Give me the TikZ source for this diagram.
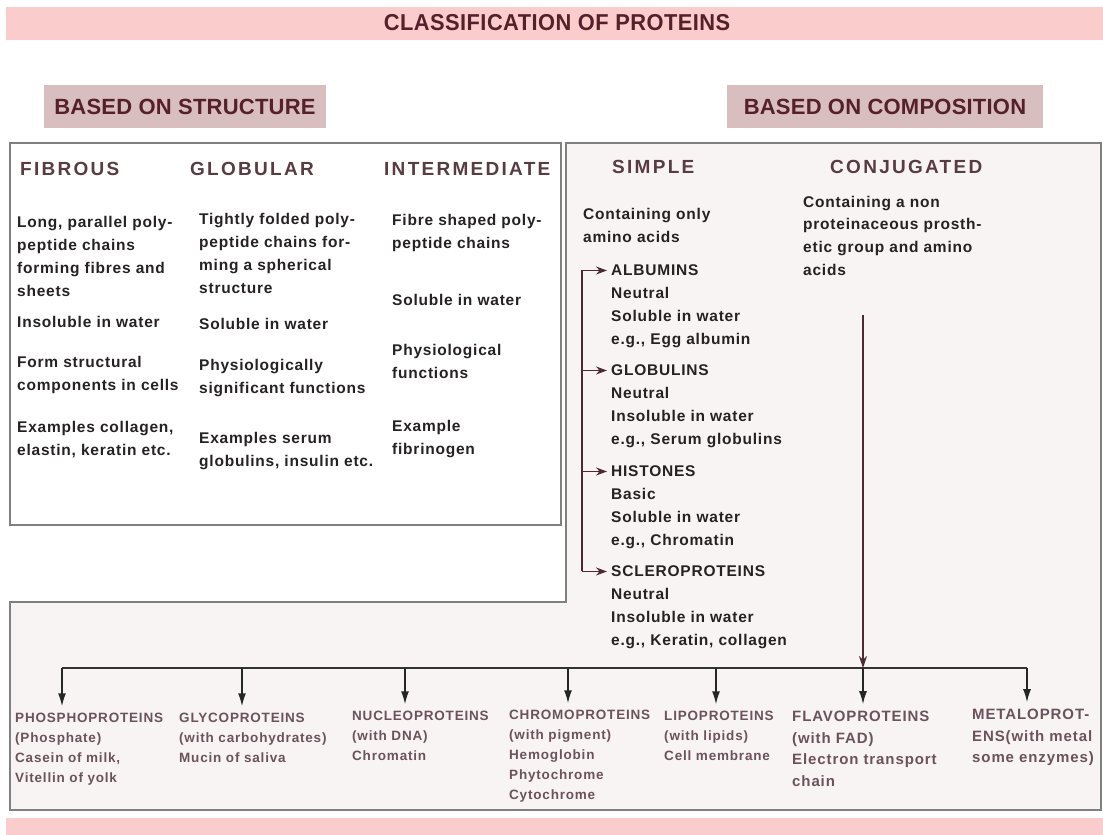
\documentclass[tikz,border=0pt]{standalone}
\usepackage{fontspec}
\setmainfont{Liberation Sans}
\newfontfamily\bannerfont{Liberation Sans}[FakeStretch=0.95,LetterSpace=2]
\newfontfamily\boxfont{Liberation Sans}[LetterSpace=1]
\newfontfamily\headfont{Liberation Sans}[LetterSpace=12]
\newfontfamily\bodyfont{Liberation Sans}[LetterSpace=5]
\newfontfamily\labelfont{Liberation Sans}[LetterSpace=6]
\usetikzlibrary{arrows.meta}
\definecolor{bandpink}{RGB}{250,204,204}
\definecolor{boxmauve}{RGB}{217,190,191}
\definecolor{panel}{RGB}{248,244,244}
\definecolor{framegray}{RGB}{128,128,128}
\definecolor{maroon}{RGB}{85,32,42}
\definecolor{headtext}{RGB}{88,60,66}
\definecolor{bodytext}{RGB}{38,34,35}
\definecolor{labeltext}{RGB}{108,82,92}
\definecolor{tipcol}{RGB}{78,40,50}
\begin{document}
\begin{tikzpicture}[x=1pt, y=-1pt,
    banner/.style={font=\bannerfont\bfseries\fontsize{23}{27}\selectfont, text=maroon, inner sep=0pt},
    basedbox/.style={fill=boxmauve, minimum height=43pt, inner sep=0pt, font=\boxfont\bfseries\fontsize{22}{26}\selectfont, text=maroon},
    colhead/.style={anchor=base west, inner sep=0pt, font=\headfont\bfseries\fontsize{19}{23}\selectfont, text=headtext},
    body/.style={anchor=north west, yshift=11.2pt, align=left, inner sep=0pt, font=\bodyfont\bfseries\fontsize{15.5}{23}\selectfont, text=bodytext},
    item/.style={body, font=\bodyfont\bfseries\fontsize{15.5}{22.7}\selectfont},
    kind/.style={anchor=north west, yshift=9.7pt, align=left, inner sep=0pt, font=\labelfont\bfseries\fontsize{13.5}{19.8}\selectfont, text=labeltext},
    bigkind/.style={kind, yshift=1.1pt, font=\labelfont\bfseries\fontsize{15}{21.5}\selectfont},
    down/.style={-{Latex[length=13pt,width=8pt]}, line width=1.5pt, black!85, shorten >=7pt},
    conj/.style={-{Stealth[length=12pt,width=8pt]}, line width=1.2pt, tipcol},
    brkarrow/.style={-{Stealth[length=11pt,width=8pt]}, line width=1.2pt, tipcol, shorten >=4pt}]
    \useasboundingbox (0, 0) rectangle (1103, 835);

    \fill[bandpink] (6, 7) rectangle (1103, 40);
    \fill[bandpink] (6, 818) rectangle (1103, 835);
    \node[banner] at (557, 23)(title){CLASSIFICATION OF PROTEINS};

    \node[basedbox, minimum width=282pt] at (185, 106.5)(structure){BASED ON STRUCTURE};
    \node[basedbox, minimum width=316pt] at (885, 106.5)(composition){BASED ON COMPOSITION};

    \draw[framegray, line width=1.6pt, fill=white] (10, 143) rectangle (561, 525);
    \draw[framegray, line width=1.6pt, fill=panel] (566, 143) -- (1101, 143) -- (1101, 810)
        -- (10, 810) -- (10, 602) -- (566, 602) -- cycle;

    \node[colhead] at (20, 175)(fibrous){FIBROUS};
    \node[colhead] at (190, 175)(globular){GLOBULAR};
    \node[colhead] at (384, 175)(intermediate){INTERMEDIATE};

    \node[body] at (17, 227)(fibA){Long, parallel poly-\\peptide chains\\forming fibres and\\sheets};
    \node[body] at (17, 327)(fibB){Insoluble in water};
    \node[body] at (17, 367)(fibC){Form structural\\components in cells};
    \node[body] at (17, 432)(fibD){Examples collagen,\\elastin, keratin etc.};

    \node[body] at (199, 224)(gloA){Tightly folded poly-\\peptide chains for-\\ming a spherical\\structure};
    \node[body] at (199, 329)(gloB){Soluble in water};
    \node[body] at (199, 370)(gloC){Physiologically\\significant functions};
    \node[body] at (199, 443)(gloD){Examples serum\\globulins, insulin etc.};

    \node[body] at (392, 225)(intA){Fibre shaped poly-\\peptide chains};
    \node[body] at (392, 305)(intB){Soluble in water};
    \node[body] at (392, 355)(intC){Physiological\\functions};
    \node[body] at (392, 431)(intD){Example\\fibrinogen};

    \node[colhead] at (612, 173)(simple){SIMPLE};
    \node[colhead] at (830, 173)(conjugated){CONJUGATED};
    \node[body] at (583, 219)(simpletext){Containing only\\amino acids};
    \node[item] at (803, 207)(conjtext){Containing a non\\proteinaceous prosth-\\etic group and amino\\acids};

    \node[item] at (611, 276)(albumins){ALBUMINS};
    \node[item] at ([yshift=-22.7pt]albumins.base west)(albuminsinfo){Neutral\\Soluble in water\\e.g., Egg albumin};
    \node[item] at (611, 376)(globulins){GLOBULINS};
    \node[item] at ([yshift=-22.7pt]globulins.base west)(globulinsinfo){Neutral\\Insoluble in water\\e.g., Serum globulins};
    \node[item] at (611, 477)(histones){HISTONES};
    \node[item] at ([yshift=-22.7pt]histones.base west)(histonesinfo){Basic\\Soluble in water\\e.g., Chromatin};
    \node[item] at (611, 577)(sclero){SCLEROPROTEINS};
    \node[item] at ([yshift=-22.7pt]sclero.base west)(scleroinfo){Neutral\\Insoluble in water\\e.g., Keratin, collagen};

    \coordinate (brk) at (582, 271);
    \draw[tipcol, line width=1.2pt] (brk |- albumins.west) -- (brk |- sclero.west);
    \foreach \n in {albumins, globulins, histones, sclero}
        \draw[brkarrow] (brk |- \n.west) -- (\n.west);

    \node[kind] at (15, 723)(phospho){PHOSPHOPROTEINS\\(Phosphate)\\Casein of milk,\\Vitellin of yolk};
    \node[kind] at (179, 723)(glyco){GLYCOPROTEINS\\(with carbohydrates)\\Mucin of saliva};
    \node[kind] at (352, 721)(nucleo){NUCLEOPROTEINS\\(with DNA)\\Chromatin};
    \node[kind] at (509, 720)(chromo){CHROMOPROTEINS\\(with pigment)\\Hemoglobin\\Phytochrome\\Cytochrome};
    \node[kind] at (664, 721)(lipo){LIPOPROTEINS\\(with lipids)\\Cell membrane};
    \node[bigkind] at (792, 722)(flavo){FLAVOPROTEINS\\(with FAD)\\Electron transport\\chain};
    \node[bigkind] at (972, 720)(metalo){METALOPROT-\\ENS(with metal\\some enzymes)};

    \foreach \n/\x in {phospho/62, glyco/242, nucleo/405, chromo/568, lipo/716, flavo/863, metalo/1027}
        \coordinate (tap\n) at (\x, 668);
    \draw[black!80, line width=1.8pt] (tapphospho) -- (tapmetalo);
    \foreach \n in {phospho, glyco, nucleo, chromo, lipo, flavo, metalo}
        \draw[down] (tap\n) -- (tap\n |- \n.north);

    \coordinate (conjtop) at (863, 315);
    \draw[conj] (conjtop) -- (tapflavo);
\end{tikzpicture}
\end{document}
